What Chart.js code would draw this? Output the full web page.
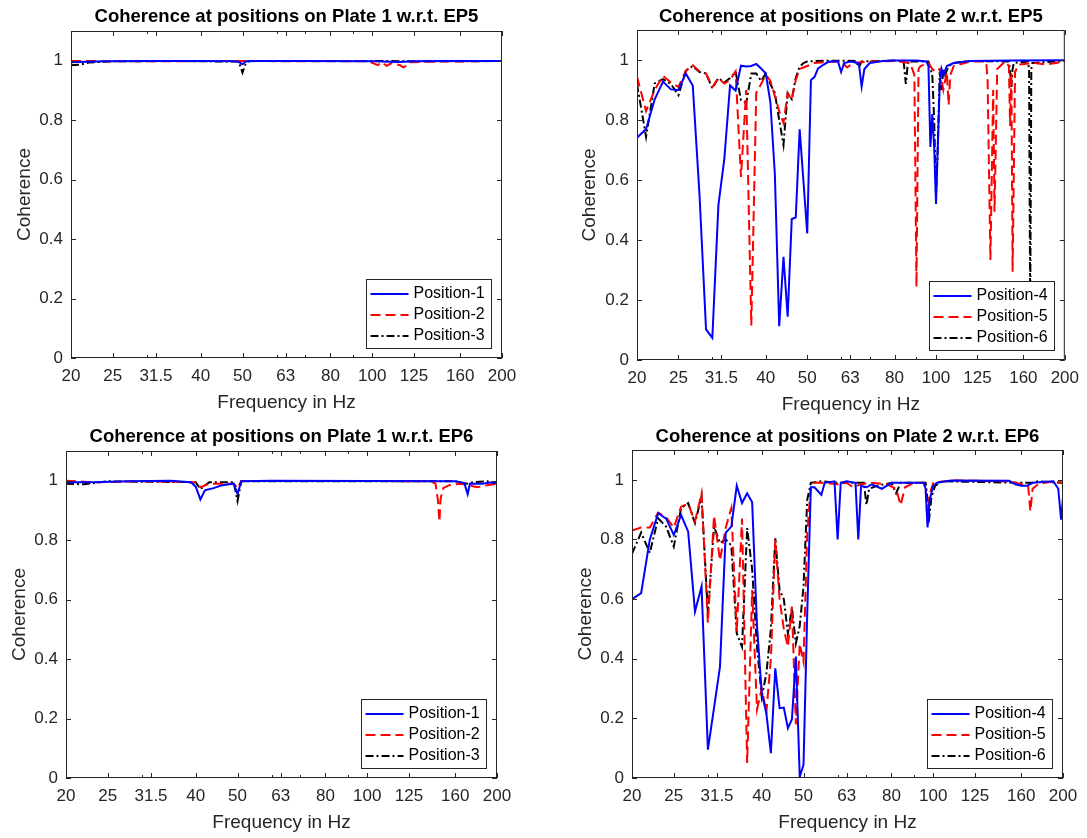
<!DOCTYPE html>
<html>
<head>
<meta charset="utf-8">
<script src="https://cdn.jsdelivr.net/npm/chart.js@4.4.0/dist/chart.umd.min.js"></script>
<style>
  body { margin: 0; background: #fff; }
  #wrap { position: relative; width: 1087px; height: 838px; }
  .panel { position: absolute; }
</style>
</head>
<body>
<div id="wrap">
  <div class="panel" style="left:0;top:0;width:543px;height:419px"><canvas id="c1"></canvas></div>
  <div class="panel" style="left:543px;top:0;width:544px;height:419px"><canvas id="c2"></canvas></div>
  <div class="panel" style="left:0;top:419px;width:543px;height:419px"><canvas id="c3"></canvas></div>
  <div class="panel" style="left:543px;top:419px;width:544px;height:419px"><canvas id="c4"></canvas></div>
</div>
<script>
// Ejes
const freqTicks = [20, 25, 31.5, 40, 50, 63, 80, 100, 125, 160, 200];
const minorTicks = [30, 60, 70, 90];
const yTicks = [0, 0.2, 0.4, 0.6, 0.8, 1];

// Plate 1 w.r.t. EP5  [frequency Hz, coherence]
const pos1EP5 = [[20,0.995],[24,0.998],[30,0.999],[40,0.999],[48,0.998],[49,0.996],[50,0.988],[51,0.998],[55,0.999],[70,0.999],[100,0.998],[115,0.996],[125,0.998],[150,0.999],[200,0.999]];
const pos2EP5 = [[20,0.999],[30,0.998],[45,0.999],[98,0.998],[101,0.99],[103,0.985],[105,0.995],[108,0.983],[111,0.992],[116,0.985],[118,0.978],[120,0.983],[122,0.995],[140,0.997],[170,0.998],[200,0.999]];
const pos3EP5 = [[20,0.985],[21,0.987],[22,0.994],[25,0.998],[35,0.999],[49,0.997],[50,0.96],[51,0.995],[52,0.999],[100,0.999],[150,0.998],[200,0.999]];

// Plate 2 w.r.t. EP5
const pos4EP5 = [[20,0.741],[21,0.77],[22,0.869],[23,0.928],[24,0.902],[25,0.9],[26,0.955],[27,0.915],[28,0.55],[29,0.102],[30,0.074],[31,0.517],[32,0.67],[33,0.915],[34,0.898],[35,0.981],[36,0.978],[37,0.98],[38,0.987],[39,0.972],[40,0.955],[41,0.86],[42,0.62],[43,0.113],[44,0.344],[45,0.144],[46,0.47],[47,0.475],[48,0.769],[50,0.422],[51,0.933],[52,0.944],[53,0.972],[54,0.98],[55,0.987],[56,0.994],[58,0.996],[59,0.995],[60,0.96],[61,0.99],[63,0.995],[66,0.99],[67,0.911],[68,0.97],[70,0.99],[75,0.997],[80,0.998],[90,0.998],[95,0.995],[96,0.98],[97,0.71],[98,0.82],[99,0.71],[100,0.52],[101,0.72],[102,0.92],[103,0.97],[104,0.95],[106,0.98],[110,0.99],[120,0.997],[150,0.998],[200,0.999]];
const pos5EP5 = [[20,0.944],[21,0.83],[22,0.9],[23,0.947],[24,0.925],[25,0.91],[26,0.964],[27,0.983],[28,0.962],[29,0.955],[30,0.91],[31,0.94],[32,0.922],[33,0.933],[34,0.962],[35,0.61],[36,0.9],[37,0.115],[38,0.89],[39,0.92],[40,0.95],[41,0.93],[42,0.88],[43,0.83],[44,0.79],[45,0.889],[46,0.867],[47,0.933],[48,0.97],[49,0.975],[50,0.98],[52,0.99],[55,0.993],[60,0.995],[62,0.975],[64,0.99],[70,0.995],[80,0.997],[87,0.99],[89,0.95],[90,0.244],[91,0.97],[92,0.98],[96,0.99],[98,0.97],[100,0.96],[102,0.97],[104,0.9],[106,0.96],[107,0.85],[108,0.95],[110,0.98],[120,0.995],[131,0.995],[132,0.93],[134,0.333],[136,0.9],[137,0.494],[139,0.97],[145,0.995],[148,0.98],[149,0.78],[150,0.96],[151,0.294],[153,0.96],[156,0.985],[170,0.99],[180,0.985],[200,0.995]];
const pos6EP5 = [[20,0.92],[21,0.744],[22,0.922],[23,0.936],[24,0.92],[25,0.883],[26,0.964],[27,0.98],[28,0.96],[29,0.955],[30,0.906],[31,0.94],[32,0.925],[33,0.94],[34,0.96],[35,0.867],[36,0.856],[37,0.955],[38,0.955],[39,0.93],[40,0.955],[41,0.92],[42,0.89],[43,0.8],[44,0.717],[45,0.89],[46,0.87],[47,0.94],[48,0.978],[49,0.99],[50,0.995],[55,0.998],[65,0.997],[66,0.975],[67,0.995],[80,0.998],[84,0.995],[85,0.92],[86,0.995],[96,0.995],[98,0.95],[99,0.8],[100,0.55],[101,0.72],[102,0.96],[103,0.9],[104,0.97],[105,0.95],[107,0.98],[110,0.99],[120,0.997],[148,0.995],[149,0.96],[150,0.91],[151,0.97],[152,0.99],[164,0.995],[165,0.97],[166,0.15],[167,0.97],[168,0.99],[200,0.997]];

// Plate 1 w.r.t. EP6
const pos1EP6 = [[20,0.995],[23,0.995],[28,0.998],[35,1.0],[39,0.995],[40,0.98],[41,0.937],[42,0.968],[44,0.975],[46,0.985],[49,0.99],[50,0.955],[51,0.998],[60,1.0],[100,0.999],[160,0.998],[168,0.992],[171,0.955],[173,0.99],[185,0.99],[195,0.995],[200,0.99]];
const pos2EP6 = [[20,1.0],[23,0.995],[30,0.998],[40,0.995],[41,0.978],[43,0.99],[49,0.99],[50,0.975],[51,0.999],[100,0.999],[140,0.998],[144,0.99],[146,0.93],[147,0.862],[148,0.94],[150,0.975],[155,0.985],[165,0.99],[180,0.978],[190,0.985],[200,0.99]];
const pos3EP6 = [[20,0.99],[22,0.988],[25,0.998],[40,0.995],[41,0.972],[43,0.995],[49,0.995],[50,0.932],[51,0.998],[160,0.998],[170,0.99],[176,0.995],[190,0.998],[196,0.99],[200,0.995]];

// Plate 2 w.r.t. EP6
const pos4EP6 = [[20,0.6],[21,0.62],[22,0.8],[23,0.888],[24,0.87],[25,0.815],[26,0.882],[27,0.826],[28,0.558],[29,0.642],[30,0.095],[31,0.235],[32,0.373],[33,0.823],[34,0.843],[35,0.98],[36,0.922],[37,0.955],[38,0.925],[39,0.51],[40,0.284],[41,0.217],[42,0.083],[43,0.368],[44,0.234],[45,0.236],[46,0.167],[47,0.197],[48,0.407],[49,0.004],[50,0.044],[51,0.55],[52,0.975],[53,0.975],[55,0.95],[56,0.99],[59,0.995],[60,0.8],[61,0.99],[63,0.995],[66,0.99],[67,0.8],[68,0.98],[70,0.975],[72,0.985],[76,0.97],[80,0.99],[90,0.99],[95,0.99],[96,0.97],[97,0.84],[98,0.93],[100,0.98],[102,0.99],[110,0.998],[150,0.997],[155,0.985],[160,0.98],[165,0.98],[170,0.99],[190,0.995],[195,0.97],[198,0.866],[200,0.94]];
const pos5EP6 = [[20,0.83],[21,0.84],[22,0.84],[23,0.89],[24,0.875],[25,0.84],[26,0.91],[27,0.92],[28,0.86],[29,0.955],[30,0.52],[31,0.88],[32,0.73],[33,0.84],[34,0.905],[35,0.49],[36,0.87],[37,0.05],[38,0.63],[39,0.23],[40,0.3],[41,0.22],[42,0.4],[43,0.8],[44,0.6],[45,0.5],[46,0.44],[47,0.575],[48,0.18],[49,0.45],[50,0.39],[51,0.82],[52,0.98],[53,0.99],[56,0.99],[60,0.985],[63,0.99],[65,0.975],[68,0.985],[72,0.99],[78,0.985],[82,0.97],[84,0.915],[86,0.975],[90,0.99],[95,0.99],[96,0.97],[97,0.86],[98,0.95],[100,0.99],[110,0.998],[150,0.995],[160,0.985],[166,0.98],[168,0.895],[170,0.97],[175,0.985],[190,0.995],[200,0.99]];
const pos6EP6 = [[20,0.752],[21,0.823],[22,0.755],[23,0.871],[24,0.843],[25,0.776],[26,0.905],[27,0.922],[28,0.855],[29,0.944],[30,0.553],[31,0.843],[32,0.788],[33,0.8],[34,0.78],[35,0.485],[36,0.44],[37,0.838],[38,0.7],[39,0.44],[40,0.273],[41,0.35],[42,0.5],[43,0.804],[44,0.63],[45,0.6],[46,0.485],[47,0.57],[48,0.452],[49,0.51],[50,0.642],[51,0.933],[52,0.99],[55,0.995],[60,0.99],[65,0.99],[69,0.99],[70,0.916],[71,0.97],[74,0.98],[80,0.99],[82,0.955],[84,0.99],[96,0.99],[98,0.88],[99,0.94],[101,0.98],[105,0.995],[160,0.99],[170,0.99],[175,0.995],[200,0.99]];

// Estilos de linea
const estilos = [
  { color: "#0000ff", dash: [] },
  { color: "#ff0000", dash: [10, 5] },
  { color: "#000000", dash: [8, 3, 2, 3] }
];

const fuente = "'Liberation Sans', Arial, Helvetica, sans-serif";

const paneles = [
  { id: "c1", titulo: "Coherence at positions on Plate 1 w.r.t. EP5", series: [pos1EP5, pos2EP5, pos3EP5],
    nombres: ["Position-1", "Position-2", "Position-3"], left: 71, bottom: 61, right: 41, tTop: 6, tBot: 2.8, yPad: 13.6, xPad: 4.6 },
  { id: "c2", titulo: "Coherence at positions on Plate 2 w.r.t. EP5", series: [pos4EP5, pos5EP5, pos6EP5],
    nombres: ["Position-4", "Position-5", "Position-6"], left: 94, bottom: 59, right: 19, tTop: 6, tBot: 1.8, yPad: 34.9, xPad: 2.6 },
  { id: "c3", titulo: "Coherence at positions on Plate 1 w.r.t. EP6", series: [pos1EP6, pos2EP6, pos3EP6],
    nombres: ["Position-1", "Position-2", "Position-3"], left: 66, bottom: 60, right: 46, tTop: 7, tBot: 2.8, yPad: 8.6, xPad: 3.6 },
  { id: "c4", titulo: "Coherence at positions on Plate 2 w.r.t. EP6", series: [pos4EP6, pos5EP6, pos6EP6],
    nombres: ["Position-4", "Position-5", "Position-6"], left: 89, bottom: 60, right: 24, tTop: 7, tBot: 1.8, yPad: 31.6, xPad: 3.6 }
];

// Marco, marcas de eje y leyenda estilo MATLAB
const marco = {
  id: "marco",
  afterDraw(chart) {
    const { ctx, chartArea: a, scales: { x, y } } = chart;
    ctx.save();
    ctx.strokeStyle = "#262626";
    ctx.lineWidth = 1;
    ctx.setLineDash([]);
    ctx.strokeRect(a.left + 0.5, a.top + 0.5, a.width - 1, a.height - 1);

    ctx.beginPath();
    const marcaX = (v, len) => {
      const px = Math.round(x.getPixelForValue(v)) + 0.5;
      ctx.moveTo(px, a.bottom); ctx.lineTo(px, a.bottom - len);
      ctx.moveTo(px, a.top); ctx.lineTo(px, a.top + len);
    };
    freqTicks.forEach(v => marcaX(v, 5));
    minorTicks.forEach(v => marcaX(v, 3));
    yTicks.forEach(v => {
      const py = Math.round(y.getPixelForValue(v)) + 0.5;
      ctx.moveTo(a.left, py); ctx.lineTo(a.left + 5, py);
      ctx.moveTo(a.right, py); ctx.lineTo(a.right - 5, py);
    });
    ctx.stroke();

    // Leyenda
    const bw = 125, bh = 69;
    const bx = Math.round(a.right - 11 - bw) + 0.5;
    const by = Math.round(a.bottom - 10 - bh) + 0.5;
    ctx.fillStyle = "#fff";
    ctx.fillRect(bx, by, bw, bh);
    ctx.strokeRect(bx, by, bw, bh);
    ctx.font = "16px " + fuente;
    ctx.textBaseline = "middle";
    chart.data.datasets.forEach((ds, i) => {
      const yy = by + 14.5 + i * 21;
      ctx.beginPath();
      ctx.setLineDash(ds.borderDash);
      ctx.strokeStyle = ds.borderColor;
      ctx.lineWidth = 2;
      ctx.moveTo(bx + 4, yy);
      ctx.lineTo(bx + 42, yy);
      ctx.stroke();
      ctx.setLineDash([]);
      ctx.fillStyle = "#000";
      ctx.fillText(ds.label, bx + 47, yy);
    });
    ctx.restore();
  }
};

function crearPanel(p) {
  const datasets = p.series.map((s, i) => ({
    label: p.nombres[i],
    data: s.map(([f, c]) => ({ x: f, y: c })),
    borderColor: estilos[i].color,
    borderDash: estilos[i].dash,
    borderWidth: 2,
    pointRadius: 0,
    tension: 0,
    fill: false
  }));

  new Chart(document.getElementById(p.id), {
    type: "line",
    data: { datasets },
    plugins: [marco],
    options: {
      responsive: true,
      maintainAspectRatio: false,
      animation: false,
      devicePixelRatio: 1,
      layout: { padding: { left: 0, top: 0, bottom: 0, right: p.right } },
      plugins: {
        legend: { display: false },
        tooltip: { enabled: false },
        title: {
          display: true,
          text: p.titulo,
          fullSize: false,
          color: "#000",
          font: { family: fuente, size: 18.5, weight: "bold", lineHeight: 1.2 },
          padding: { top: p.tTop, bottom: p.tBot }
        }
      },
      scales: {
        x: {
          type: "logarithmic",
          min: 20,
          max: 200,
          afterBuildTicks: s => { s.ticks = freqTicks.map(v => ({ value: v })); },
          afterFit: s => { s.height = p.bottom; },
          grid: { display: false, drawTicks: false },
          border: { display: false },
          ticks: {
            autoSkip: false,
            maxRotation: 0,
            padding: 8,
            color: "#262626",
            font: { family: fuente, size: 17 },
            callback: v => String(v)
          },
          title: {
            display: true,
            text: "Frequency in Hz",
            color: "#262626",
            font: { family: fuente, size: 19, lineHeight: 1.2 },
            padding: { top: 0, bottom: p.xPad }
          }
        },
        y: {
          min: 0,
          max: 1.1,
          afterBuildTicks: s => { s.ticks = yTicks.map(v => ({ value: v })); },
          afterFit: s => { s.width = p.left; },
          grid: { display: false, drawTicks: false },
          border: { display: false },
          ticks: {
            padding: 8,
            color: "#262626",
            font: { family: fuente, size: 17 },
            callback: v => String(Number(v.toFixed(1)))
          },
          title: {
            display: true,
            text: "Coherence",
            color: "#262626",
            font: { family: fuente, size: 19, lineHeight: 1.2 },
            padding: { top: p.yPad, bottom: 0 }
          }
        }
      }
    }
  });
}

paneles.forEach(crearPanel);
</script>
</body>
</html>
